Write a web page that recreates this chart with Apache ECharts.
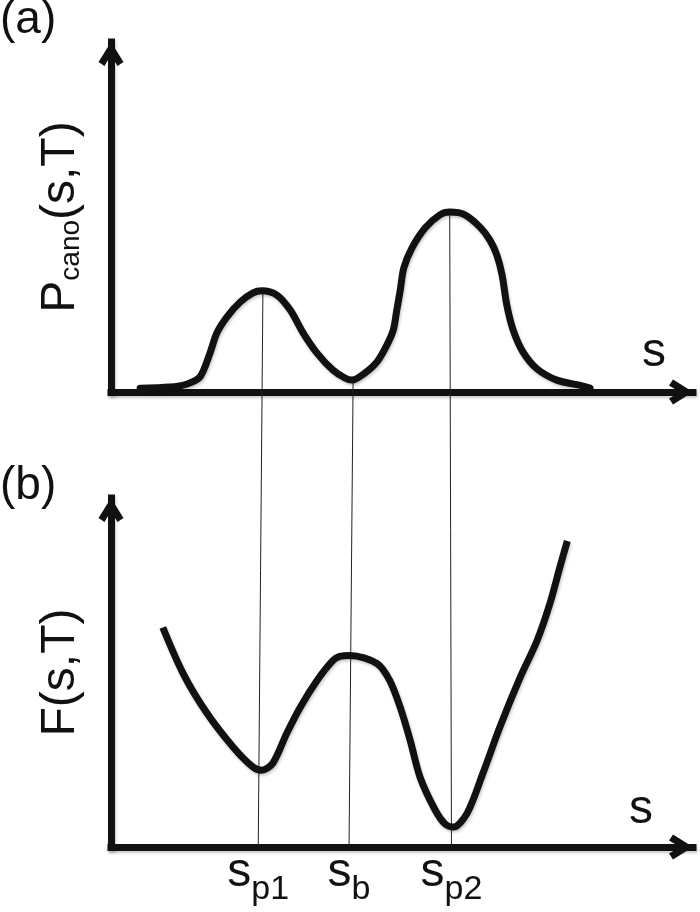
<!DOCTYPE html>
<html>
<head>
<meta charset="utf-8">
<script src="https://cdn.jsdelivr.net/npm/echarts@6/dist/echarts.min.js"></script>
<style>
  html, body { margin: 0; padding: 0; background: #fff; }
  #chart { width: 700px; height: 912px; }
</style>
</head>
<body>
<div id="chart"></div>
<script>
// ---- Data ----
// Panel (a): canonical distribution P_cano(s,T)
const sA = [0.50, 1.01, 1.31, 1.53, 1.70, 1.82, 1.99, 2.22, 2.44, 2.59, 2.85, 3.08, 3.30, 3.54, 3.81, 4.02, 4.14,
            4.36, 4.57, 4.74, 4.85, 4.91, 4.97, 5.03, 5.17, 5.40, 5.65, 5.82, 6.08, 6.34, 6.51, 6.63, 6.72, 6.80,
            6.91, 7.08, 7.32, 7.66, 8.11, 8.23];
const pA = [0.11, 0.14, 0.23, 0.43, 1.11, 1.69, 2.14, 2.57, 2.83, 2.89, 2.77, 2.34, 1.69, 1.11, 0.63, 0.40, 0.34,
            0.54, 0.86, 1.34, 1.77, 2.34, 2.91, 3.54, 4.11, 4.69, 5.06, 5.14, 5.06, 4.71, 4.34, 3.91, 3.34, 2.49,
            1.77, 1.14, 0.66, 0.34, 0.17, 0.11];
// Panel (b): free energy F(s,T)
const sB = [0.89, 1.24, 1.65, 2.10, 2.44, 2.59, 2.78, 3.02, 3.25, 3.54, 3.81, 3.93, 4.11, 4.57, 4.79, 4.97, 5.14,
            5.31, 5.57, 5.74, 5.88, 6.12, 6.39, 6.68, 7.03, 7.32, 7.54, 7.71, 7.84];
const fB = [6.29, 4.97, 3.83, 2.86, 2.29, 2.20, 2.40, 3.26, 4.00, 4.77, 5.34, 5.46, 5.49, 5.26, 4.77, 4.00, 3.06,
            2.00, 1.06, 0.66, 0.57, 0.97, 2.11, 3.43, 4.86, 5.91, 6.97, 8.00, 8.77];
// Guide lines: from feature in (a) down to the s-axis of (b)
const guideNames = ['{m|s}{sub|p1}', '{m|s}{sub|b}', '{m|s}{sub|p2}'];
const guideTopS = [2.61, 4.16, 5.82];
const guideTopP = [2.80, 0.34, 5.14];
const guideBotS = [2.53, 4.09, 5.85];
const guideBotY = -13;   // s-axis of panel (b) in the overlay scale
// Axis titles
const yNameA = '{m|P}{sub|cano}{m|(s,T)}';
const yNameB = '{m|F(s,T)}';
const xName = 's';
const panelTitles = ['(a)', '(b)'];

// ---- Chart ----
const FONT = '"Liberation Sans", Arial, Helvetica, sans-serif';
const INK = '#111';
const ARROW = 'path://M12.5,0 L25,20 L19,24 L12.5,13 L6,24 L0,20 Z';
const shadow = { shadowColor: 'rgba(0,0,0,0.22)', shadowBlur: 3, shadowOffsetX: 1, shadowOffsetY: 2 };

function axisLineCfg() {
  return {
    show: true,
    onZero: false,
    symbol: ['none', ARROW],
    symbolSize: [25, 24],
    symbolOffset: [0, -12],
    lineStyle: Object.assign({ color: INK, width: 7, cap: 'square' }, shadow)
  };
}
function xAxisCfg(gi, gap, padBottom) {
  return {
    gridIndex: gi, type: 'value', min: 0, max: 10,
    axisLine: axisLineCfg(), axisTick: { show: false }, axisLabel: { show: false }, splitLine: { show: false },
    name: xName, nameLocation: 'end', nameGap: gap,
    nameTextStyle: { fontSize: 48, lineHeight: 48, fontFamily: FONT, color: INK, align: 'center', verticalAlign: 'bottom', padding: [0, 0, padBottom, 0] }
  };
}
function yAxisCfg(gi, name) {
  return {
    gridIndex: gi, type: 'value', min: 0, max: 10,
    axisLine: axisLineCfg(), axisTick: { show: false }, axisLabel: { show: false }, splitLine: { show: false },
    name: name, nameLocation: 'middle', nameRotate: 90, nameGap: 26,
    nameTextStyle: {
      fontSize: 48, fontFamily: FONT, color: INK,
      rich: {
        m: { fontSize: 48, lineHeight: 48, fontFamily: FONT, color: INK },
        sub: { fontSize: 28, lineHeight: 28, fontFamily: FONT, color: INK, verticalAlign: 'bottom' }
      }
    }
  };
}

const guideSeries = guideNames.map((lbl, i) => ({
  type: 'line', xAxisIndex: 2, yAxisIndex: 2, z: 1, silent: true,
  symbol: 'none', animation: false,
  lineStyle: { color: '#222', width: 1 },
  data: [[guideTopS[i], guideTopP[i]], [guideBotS[i], guideBotY]]
}));
const guideLabels = {
  type: 'scatter', xAxisIndex: 2, yAxisIndex: 2, z: 5, silent: true, animation: false,
  symbolSize: 0.01, itemStyle: { color: INK, opacity: 1 },
  label: {
    show: true, position: 'bottom', distance: 2,
    color: INK, fontSize: 48, fontFamily: FONT, opacity: 1,
    textBorderWidth: 0,
    formatter: p => guideNames[p.dataIndex],
    rich: {
      m: { fontSize: 48, lineHeight: 48, fontFamily: FONT, color: INK },
      sub: { fontSize: 34, lineHeight: 34, fontFamily: FONT, color: INK, padding: [34, 0, 0, 0] }
    }
  },
  data: guideBotS.map(s => [s, guideBotY])
};

const option = {
  animation: false,
  backgroundColor: '#fff',
  title: panelTitles.map((t, i) => ({
    text: t, left: 0, top: i === 0 ? -3 : 463, padding: 0,
    textStyle: { fontSize: 46, fontWeight: 'normal', fontFamily: FONT, color: INK }
  })),
  grid: [
    { left: 111, right: 7, top: 42, bottom: 520 },
    { left: 111, right: 7, top: 498, bottom: 65 },
    { left: 111, right: 7, top: 42, bottom: 65 }
  ],
  xAxis: [
    xAxisCfg(0, -39, 15),
    xAxisCfg(1, -52, 13),
    { gridIndex: 2, type: 'value', min: 0, max: 10, show: false }
  ],
  yAxis: [
    yAxisCfg(0, yNameA),
    yAxisCfg(1, yNameB),
    { gridIndex: 2, type: 'value', min: guideBotY, max: 10, show: false }
  ],
  series: [
    ...guideSeries,
    guideLabels,
    {
      type: 'line', xAxisIndex: 0, yAxisIndex: 0, z: 3, symbol: 'none', smooth: 0.3,
      lineStyle: Object.assign({ color: INK, width: 7, cap: 'round', join: 'round' }, shadow),
      data: sA.map((s, i) => [s, pA[i]])
    },
    {
      type: 'line', xAxisIndex: 1, yAxisIndex: 1, z: 3, symbol: 'none', smooth: 0.3,
      lineStyle: Object.assign({ color: INK, width: 7, cap: 'butt', join: 'round' }, shadow),
      data: sB.map((s, i) => [s, fB[i]])
    }
  ]
};

const chart = echarts.init(document.getElementById('chart'), null, { renderer: 'canvas' });
chart.setOption(option);
</script>
</body>
</html>
